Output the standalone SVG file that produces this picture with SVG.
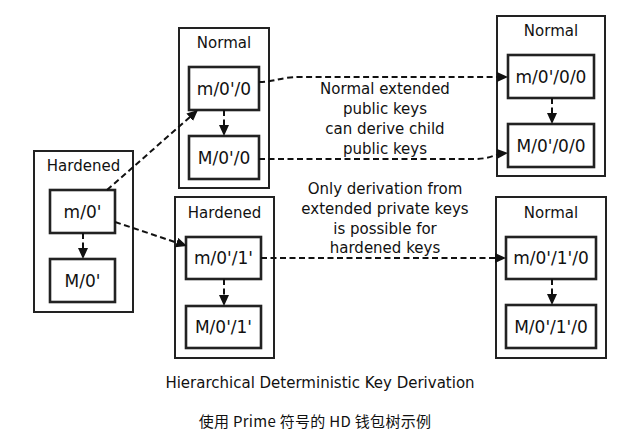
<svg xmlns="http://www.w3.org/2000/svg" width="629" height="435" viewBox="0 0 629 435">
<style>
.grp{fill:#fff;stroke:#222;stroke-width:2}
.key{fill:#fff;stroke:#222;stroke-width:2.6}
.t{font-family:"DejaVu Sans","Liberation Sans",sans-serif;fill:#111;text-anchor:middle}
.ttl{font-size:15px}
.lbl{font-size:17px}
.note{font-size:15px}
.cap{font-size:15px}
.cn{font-family:"Noto Sans CJK SC","Noto Sans",sans-serif;font-size:15px;fill:#111;text-anchor:middle;letter-spacing:0.3px}
.c{fill:none;stroke:#111;stroke-width:2;stroke-dasharray:6 3.5}
</style>
<defs>
<marker id="ah" markerUnits="userSpaceOnUse" markerWidth="11" markerHeight="10" refX="8" refY="5" orient="auto">
<path d="M0,0 L11,5 L0,10 z" fill="#111"/>
</marker>
</defs>
<rect width="629" height="435" fill="#fff"/>

<g id="root">
<rect class="grp" x="34" y="151" width="99" height="161"/>
<text class="t ttl" x="83.5" y="171">Hardened</text>
</g>
<g id="m0h">
<rect class="key" x="50" y="190" width="65" height="43"/>
<text class="t lbl" x="82.5" y="217.5">m/0'</text>
</g>
<g id="M0h">
<rect class="key" x="50" y="259" width="65" height="43"/>
<text class="t lbl" x="82.5" y="286.5">M/0'</text>
</g>

<g id="normal1">
<rect class="grp" x="179" y="28" width="90" height="160"/>
<text class="t ttl" x="224" y="48">Normal</text>
</g>
<g id="m0h0">
<rect class="key" x="189" y="67" width="70" height="43"/>
<text class="t lbl" x="224" y="94.5">m/0'/0</text>
</g>
<g id="M0h0">
<rect class="key" x="189" y="136" width="70" height="43"/>
<text class="t lbl" x="224" y="163.5">M/0'/0</text>
</g>

<g id="hardened1">
<rect class="grp" x="175" y="197" width="99" height="161"/>
<text class="t ttl" x="224.5" y="217.5">Hardened</text>
</g>
<g id="m0h1h">
<rect class="key" x="186" y="237" width="75" height="42"/>
<text class="t lbl" x="223.5" y="264">m/0'/1'</text>
</g>
<g id="M0h1h">
<rect class="key" x="186" y="306" width="75" height="42"/>
<text class="t lbl" x="223.5" y="333">M/0'/1'</text>
</g>

<g id="normal2">
<rect class="grp" x="497" y="16" width="108" height="160"/>
<text class="t ttl" x="551" y="36">Normal</text>
</g>
<g id="m0h00">
<rect class="key" x="508" y="55" width="86" height="43"/>
<text class="t lbl" x="551" y="82.5">m/0'/0/0</text>
</g>
<g id="M0h00">
<rect class="key" x="508" y="124" width="86" height="43"/>
<text class="t lbl" x="551" y="151.5">M/0'/0/0</text>
</g>

<g id="normal3">
<rect class="grp" x="496" y="197" width="110" height="161"/>
<text class="t ttl" x="551" y="217.5">Normal</text>
</g>
<g id="m0h1h0">
<rect class="key" x="506" y="237" width="90" height="42"/>
<text class="t lbl" x="551" y="264">m/0'/1'/0</text>
</g>
<g id="M0h1h0">
<rect class="key" x="506" y="305" width="90" height="43"/>
<text class="t lbl" x="551" y="332.5">M/0'/1'/0</text>
</g>

<g id="connectors">
<path class="c" d="M107,190 L195.7,112" marker-end="url(#ah)"/>
<path class="c" d="M115,222 L184.2,245.1" marker-end="url(#ah)"/>
<path class="c" d="M259,82 C275,82 280,77 300,77 L505,77" marker-end="url(#ah)"/>
<path class="c" d="M259,159 L475,159 C490,159 495,154 505,153.3" marker-end="url(#ah)"/>
<path class="c" d="M261,258 L503,258" marker-end="url(#ah)"/>
<path class="c" d="M224,110 L224,133" marker-end="url(#ah)"/>
<path class="c" d="M83,233 L83,256" marker-end="url(#ah)"/>
<path class="c" d="M224,279 L224,303" marker-end="url(#ah)"/>
<path class="c" d="M552,98 L552,121" marker-end="url(#ah)"/>
<path class="c" d="M552,279 L552,302" marker-end="url(#ah)"/>
</g>

<g id="note1">
<text class="t note" x="385" y="94">Normal extended</text>
<text class="t note" x="385" y="114">public keys</text>
<text class="t note" x="385" y="134">can derive child</text>
<text class="t note" x="385" y="154">public keys</text>
</g>
<g id="note2">
<text class="t note" x="385" y="193.5">Only derivation from</text>
<text class="t note" x="385" y="213.5">extended private keys</text>
<text class="t note" x="385" y="233.5">is possible for</text>
<text class="t note" x="385" y="253">hardened keys</text>
</g>

<text class="t cap" x="320" y="388">Hierarchical Deterministic Key Derivation</text>
<text class="cn" x="315" y="426.5">使用 Prime 符号的 HD 钱包树示例</text>
</svg>
